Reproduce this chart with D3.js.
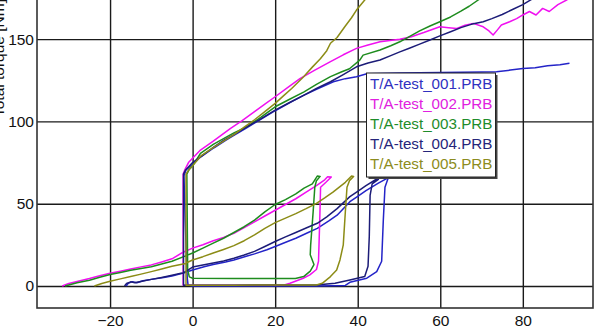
<!DOCTYPE html>
<html>
<head>
<meta charset="utf-8">
<script src="https://cdn.jsdelivr.net/npm/d3@7"></script>
<style>
  html, body { margin: 0; padding: 0; background: #fff; }
  svg { display: block; }
  text { font-family: Arial, "Liberation Sans", sans-serif; }
</style>
</head>
<body>
<div id="chart"></div>
<script>
// ---------- data ----------
const xTicks = [-20, 0, 20, 40, 60, 80];
const yTicks = [0, 50, 100, 150];
const yTitle = "Total torque [Nm]";
const seriesNames = ["T/A-test_001.PRB", "T/A-test_002.PRB", "T/A-test_003.PRB", "T/A-test_004.PRB", "T/A-test_005.PRB"];

// each test: ramp -> peak -> drop -> return along bottom -> vertical rise -> upper branch
const test001 = [
  [-16.1,0],[-15.6,1.6],[-14.6,2.6],[-13.5,2.0],[-12,3.2],[-10,4],[-7,5.2],[-5,6],[-2,8],[0,9.7],[3,11.8],[5,13],[8,14.6],[10,15.8],[13,18],[15,19.5],[18,22],[20,24],[23,27],[25,29],[28,32.5],[30.2,35],[33,39.5],[35,43],[38.1,51.2],[40,54.5],[42,58],[45,62.5],[47.1,65.4],[47.3,65],
  [46.6,60],[46.2,40],[45.8,15],[44.6,8.7],[42.2,4.7],[38.1,2.2],[37,0.3],[30,0],[20,0],[10,0],[0,0],[-1.1,0.5],[-1.3,5],[-1.8,40],[-2.1,67],
  [-1.6,70.5],[0,74],[2,78.5],[5.2,84],[8,88.5],[10,91.5],[13,96],[16,100.5],[20,106.5],[24,112],[27,116],[30,119.5],[34.1,124.1],[37,126],[39.7,127.2],[42.2,129],[50,129.4],[60,129.7],[70,130],[73.6,130.2],[77,131.2],[80,132.2],[83,132.6],[86,133.8],[89,134.4],[91.3,135.3]
];
const test002 = [
  [-31.6,0],[-30,1.5],[-27.5,3],[-25,4.5],[-22.5,6.2],[-20,7.7],[-17.5,9],[-15,10.3],[-12.5,11.6],[-10,12.8],[-7.5,14.6],[-5,16.5],[-2.3,20.5],[0,23],[2.5,25],[5,27.5],[7.5,29.5],[10,32],[12.5,35.5],[15,39],[17.5,42.5],[20,46],[22.5,49.5],[25,53],[27.5,57],[30,61],[32,64.5],[32.7,66.4],[33.6,66.2],
  [32.3,63],[31,60],[30.8,40],[30.5,15],[30,10],[28.4,6.7],[26.8,4.7],[23.6,1.6],[22,0.5],[10,0.5],[0,0.5],[-2.3,0.5],[-2.3,20],[-2.3,68],
  [-1.8,71],[-1,75],[1.9,82.6],[5,88],[9.2,95.8],[12,100.5],[15,106],[17.5,110.5],[20,115],[23,120.5],[26,126],[29.5,131],[33.4,136.3],[36.5,140.5],[39.7,144.4],[42.5,146.5],[45.4,148.4],[50.2,150],[53,151.5],[56,154],[59.9,157.5],[62,157],[64,156.5],[66,158.5],[68,159.6],[70.4,157.5],[71.8,155],[72.8,152.5],[73.8,155.5],[74.8,158.6],[76.8,160.6],[78.5,162.5],[80,164.7],[81.6,166.8],[83.2,164.7],[84.8,168.7],[86.4,166.8],[88.5,171],[90.6,173.8],[92,176]
];
const test003 = [
  [-30.9,0],[-28,2],[-25,3.5],[-22.5,5.3],[-20,7],[-17.5,8.2],[-15,9.5],[-12.5,10.6],[-10,11.7],[-7.5,13.3],[-5,15],[-2,18],[0,20],[2.5,23],[5,26],[7.5,29],[10,32.5],[12.5,36],[15,40],[17.5,45],[20,49.5],[22.5,52.5],[25,56],[27,59.5],[29,62],[30.2,66.8],[30.9,66.6],
  [30,64],[29.6,60],[29.2,45],[28.6,25],[28.5,19],[29.4,13],[28.5,9],[26.9,5.7],[24.9,4.5],[20,4.5],[10,4.6],[0,4.7],[-0.8,5.5],[-1.2,10],[-1.3,40],[-1.4,68],
  [-0.8,71],[0,73],[1.9,80.6],[5,86],[7.5,89.5],[10,93],[13.2,96.8],[16.5,102.5],[20,108.9],[23.5,113.5],[27,118],[30,122.5],[33.4,127.2],[36,130],[38,132],[40.5,137.3],[41.3,140.3],[45.4,143.4],[48,146],[50.2,148.4],[52.5,151.5],[55,155],[57.5,158],[59.9,160.6],[62.5,163.5],[65,167],[67,170],[69.2,173.8],[71,177]
];
const test004 = [
  [-16.5,0],[-16,1.5],[-15,2.5],[-14,2],[-12,3],[-10,4],[-7.5,5.2],[-5,6.5],[-2,8.2],[0,11.5],[2.5,12.8],[5,14],[7.5,15.2],[10,16.8],[12.5,18.8],[15,21],[17.5,24],[20,27],[22.5,29.8],[25,32.5],[27.5,35.2],[30.2,38.1],[32.5,42],[35,47],[38.1,54.3],[40,57.5],[42,61],[44.6,65],[45,64.8],
  [43.5,62],[43,55],[42.8,30],[42.5,12],[41.7,5.7],[38.1,3.6],[34.5,1.6],[30,0.6],[10,0.5],[0,0.5],[-2.2,0.5],[-2.2,30],[-2.2,68],
  [-1.7,70.5],[0,75],[2.5,79.5],[5.2,84.6],[7.5,88.5],[10,92],[13,96.5],[16.5,101.5],[20,106.9],[23.5,111.5],[27,116],[30,120],[33.4,124.1],[36.5,128.5],[39.7,133.2],[42.5,135.5],[45.4,137.3],[48,140],[50.2,142.3],[52.5,144.5],[55,147],[57.5,149.5],[59.9,152],[62.5,154.5],[65,157],[67.5,159],[70.4,160.6],[72.5,162.5],[75,165],[77.5,168],[80,171],[82,174],[84,176]
];
const test005 = [
  [-23.8,0],[-22,1.5],[-20,2.8],[-17.5,4.3],[-15,5.8],[-12.5,7.2],[-10,8.7],[-7.5,10.3],[-5,12],[-2,13.5],[0,15.8],[2.5,17.8],[5,20],[7.5,22.2],[10,24.5],[12.5,27.5],[15,31],[17.5,35],[20,38.5],[22.5,41.2],[25,44],[27.5,47],[30,50.2],[32,53.5],[34,57],[37,63],[38.5,66.8],[39,66.5],
  [38,64],[37.4,60],[37,45],[36.5,25],[35.7,15.8],[34.9,9.7],[33.4,5.7],[31.4,1.6],[30,0.6],[10,0.5],[0,0.5],[-1.6,0.5],[-1.6,30],[-1.6,68],
  [-1.1,70],[0,73],[2,79],[5,84],[7.5,88],[10,92],[12.5,96.5],[15,101],[17.5,106],[20,111],[22,115.5],[24,120],[26.9,127.2],[29,133],[31,138.3],[32.5,143],[33.4,147.5],[35,151],[37,158],[38.5,163],[39.7,167.7],[41.7,173.8],[43,177]
];
const seriesData = [test001, test002, test003, test004, test005];
const seriesColors = ["#2424c8", "#f010f0", "#1e8c1e", "#1c1c78", "#8c8c16"];
const legendTextColors = ["#3030c0", "#e020e0", "#1e8c2a", "#25257a", "#8c8c20"];

// ---------- layout ----------
const W = 600, H = 328;
const plot = { left: 37, right: 593, top: -6, bottom: 308 };

const svg = d3.select("#chart").append("svg")
  .attr("width", W).attr("height", H)
  .attr("viewBox", `0 0 ${W} ${H}`);

const x = d3.scaleLinear().domain([-37.7, 97]).range([plot.left, plot.right]);
const y = d3.scaleLinear().domain([-13.4, 173.8]).range([plot.bottom, 0]);

svg.append("defs").append("clipPath").attr("id", "clip")
  .append("rect").attr("x", plot.left).attr("y", plot.top)
  .attr("width", plot.right - plot.left).attr("height", plot.bottom - plot.top);

// grid via axes
const gx = svg.append("g").attr("transform", `translate(0,${plot.bottom})`)
  .call(d3.axisBottom(x).tickValues(xTicks).tickSize(-(plot.bottom - plot.top)).tickPadding(8).tickFormat(d3.format("d")));
gx.select(".domain").remove();
gx.selectAll(".tick line").attr("stroke", "#1a1a1a").attr("stroke-width", 1.4);
gx.selectAll(".tick text").attr("font-size", 15.5).attr("fill", "#111")
  .attr("font-family", "Arial, 'Liberation Sans', sans-serif")
  .attr("dy", "0.78em").attr("y", 6);

const gy = svg.append("g").attr("transform", `translate(${plot.left},0)`)
  .call(d3.axisLeft(y).tickValues(yTicks).tickSize(-(plot.right - plot.left)).tickPadding(3).tickFormat(d3.format("d")));
gy.select(".domain").remove();
gy.selectAll(".tick line").attr("stroke", "#1a1a1a").attr("stroke-width", 1.4);
gy.selectAll(".tick text").attr("font-size", 15.5).attr("fill", "#111")
  .attr("font-family", "Arial, 'Liberation Sans', sans-serif");

// frame
svg.append("rect").attr("x", plot.left).attr("y", plot.top)
  .attr("width", plot.right - plot.left).attr("height", plot.bottom - plot.top)
  .attr("fill", "none").attr("stroke", "#333").attr("stroke-width", 1.6);

// curves
const line = d3.line().x(d => x(d[0])).y(d => y(d[1]));
const gl = svg.append("g").attr("clip-path", "url(#clip)");
seriesData.forEach((s, i) => {
  gl.append("path").datum(s).attr("d", line)
    .attr("fill", "none").attr("stroke", seriesColors[i])
    .attr("stroke-width", 1.5).attr("stroke-linejoin", "round");
});

// y title (partly cut off at the left edge, as in the reference)
svg.append("text")
  .attr("transform", `translate(4,58) rotate(-90)`)
  .attr("text-anchor", "middle")
  .attr("font-size", 15.5).attr("fill", "#111")
  .text(yTitle);

// legend
const lg = { x: 366.5, y: 73, w: 129, h: 104 };
const leg = svg.append("g");
leg.append("rect").attr("x", lg.x + 2).attr("y", lg.y + 2).attr("width", lg.w).attr("height", lg.h).attr("fill", "#444");
leg.append("rect").attr("x", lg.x).attr("y", lg.y).attr("width", lg.w).attr("height", lg.h)
  .attr("fill", "#fff").attr("stroke", "#222").attr("stroke-width", 1);
seriesNames.forEach((n, i) => {
  leg.append("text").attr("x", lg.x + 3.5).attr("y", lg.y + 16 + i * 20)
    .attr("font-size", 15.2).attr("fill", legendTextColors[i]).text(n);
});
</script>
</body>
</html>
